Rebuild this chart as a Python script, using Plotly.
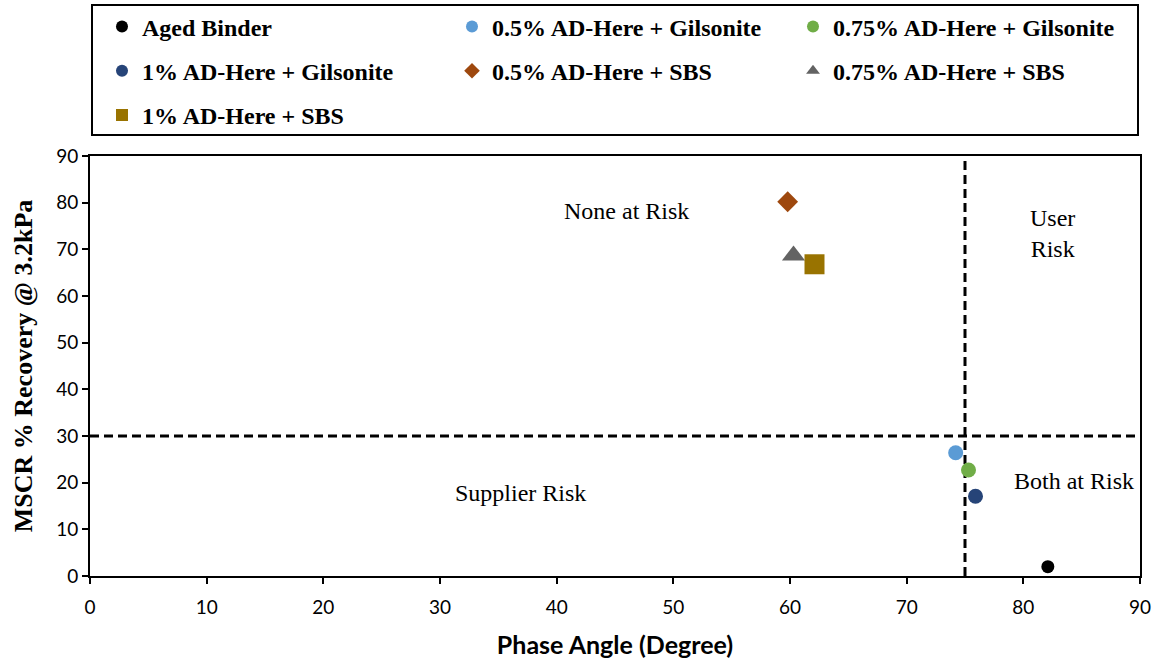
import plotly.graph_objects as go

# Series: phase angle (degree) vs MSCR % recovery at 3.2 kPa
series_names = [
    "Aged Binder",
    "0.5% AD-Here + Gilsonite",
    "0.75% AD-Here + Gilsonite",
    "1% AD-Here + Gilsonite",
    "0.5% AD-Here + SBS",
    "0.75% AD-Here + SBS",
    "1% AD-Here + SBS",
]
phase_angle = [82.1, 74.2, 75.3, 75.9, 59.8, 60.3, 62.1]
mscr_recovery = [2.0, 26.4, 22.7, 17.1, 80.2, 68.7, 66.8]

# Risk thresholds
phase_angle_limit = 75
recovery_limit = 30

axis_ticks = [0, 10, 20, 30, 40, 50, 60, 70, 80, 90]

colors = ["#000000", "#5B9BD5", "#70AD47", "#264478", "#9E480E", "#636363", "#997300"]
symbols = ["circle", "circle", "circle", "circle", "diamond", "triangle-up", "square"]
sizes = [13, 15, 15, 15, 16, 20, 20]
legend_ids = ["legend", "legend2", "legend3", "legend", "legend2", "legend3", "legend"]

W, H = 1157, 664
ML, MR, MT, MB = 90, 17, 156, 88
PW, PH = W - ML - MR, H - MT - MB


def px_x(px):
    return (px - ML) / PW


def px_y(py):
    return (H - MB - py) / PH


fig = go.Figure()
for i, name in enumerate(series_names):
    fig.add_trace(go.Scatter(
        x=[phase_angle[i]], y=[mscr_recovery[i]],
        mode="markers", name=name,
        legend=legend_ids[i], legendgroup=f"g{i}",
        marker=dict(symbol=symbols[i], size=sizes[i], color=colors[i], line=dict(width=0)),
    ))

dash_style = dict(color="black", width=3, dash="9px,5px")
fig.add_shape(type="line", xref="x", yref="y", x0=phase_angle_limit, x1=phase_angle_limit,
              y0=axis_ticks[0], y1=axis_ticks[-1], line=dash_style, layer="below")
fig.add_shape(type="line", xref="x", yref="y", x0=axis_ticks[0], x1=axis_ticks[-1],
              y0=recovery_limit, y1=recovery_limit, line=dash_style, layer="below")

# Legend frame
fig.add_shape(type="rect", xref="paper", yref="paper",
              x0=px_x(92), x1=px_x(1138), y0=px_y(135), y1=px_y(5),
              line=dict(color="black", width=2), fillcolor="rgba(0,0,0,0)")

serif = "Liberation Serif, Times New Roman, serif"
sans = "Lato, Open Sans, sans-serif"

zone_font = dict(family=serif, size=24, color="black")
for txt, xx, yy in [("None at Risk", 46.0, 78.2), ("User<br>Risk", 82.5, 73.3),
                    ("Supplier Risk", 36.9, 17.8), ("Both at Risk", 84.3, 20.4)]:
    fig.add_annotation(x=xx, y=yy, xref="x", yref="y", text=txt, showarrow=False,
                       font=zone_font, align="center")

leg_common = dict(
    orientation="v", xanchor="left", yanchor="top", bgcolor="rgba(0,0,0,0)",
    borderwidth=0, itemsizing="constant", traceorder="grouped", tracegroupgap=10,
    font=dict(family=serif, size=24, color="black", weight="bold"),
)

fig.update_layout(
    width=W, height=H,
    margin=dict(l=ML, r=MR, t=MT, b=MB, autoexpand=False),
    plot_bgcolor="white", paper_bgcolor="white",
    legend=dict(x=px_x(102), y=px_y(4.5), **leg_common),
    legend2=dict(x=px_x(452), y=px_y(4.5), **leg_common),
    legend3=dict(x=px_x(793), y=px_y(4.5), **leg_common),
    xaxis=dict(
        range=[axis_ticks[0], axis_ticks[-1]], tickvals=axis_ticks,
        showline=True, linecolor="black", linewidth=2, mirror=True,
        ticks="outside", ticklen=6, tickwidth=2, tickcolor="black",
        showgrid=False, zeroline=False, ticklabelstandoff=7, automargin=False,
        tickfont=dict(family=sans, size=19, color="black"),
        title=dict(text="Phase Angle (Degree)", standoff=20,
                   font=dict(family=sans, size=25, color="black", weight="bold")),
    ),
    yaxis=dict(
        range=[axis_ticks[0], axis_ticks[-1]], tickvals=axis_ticks,
        showline=True, linecolor="black", linewidth=2, mirror=True,
        ticks="outside", ticklen=6, tickwidth=2, tickcolor="black",
        showgrid=False, zeroline=False, automargin=False,
        tickfont=dict(family=sans, size=19, color="black"),
        title=dict(text="MSCR % Recovery @ 3.2kPa", standoff=16,
                   font=dict(family=serif, size=26, color="black", weight="bold")),
    ),
)

fig.write_html("out.html")
